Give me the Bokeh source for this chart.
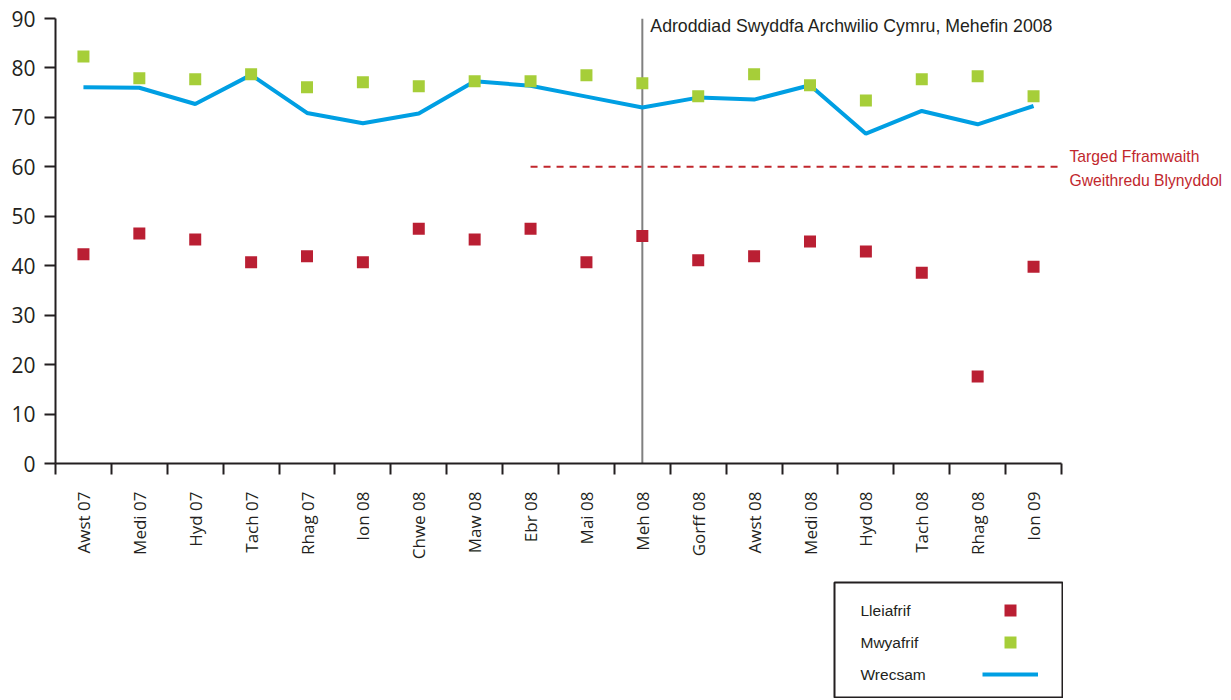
import numpy as np
from bokeh.plotting import figure
from bokeh.models import Range1d, FixedTicker, Span, Label, Legend, LegendItem, Spacer
from bokeh.layouts import column, row
from bokeh.embed import file_html
from bokeh.resources import INLINE

# ---------------- data ----------------
categories = ["Awst 07", "Medi 07", "Hyd 07", "Tach 07", "Rhag 07", "Ion 08",
              "Chwe 08", "Maw 08", "Ebr 08", "Mai 08", "Meh 08", "Gorff 08",
              "Awst 08", "Medi 08", "Hyd 08", "Tach 08", "Rhag 08", "Ion 09"]
lleiafrif = [42.3, 46.5, 45.3, 40.7, 41.9, 40.7, 47.5, 45.3, 47.5, 40.7, 46.0, 41.1,
             41.9, 44.9, 42.9, 38.6, 17.6, 39.8]
mwyafrif = [82.3, 77.9, 77.7, 78.7, 76.1, 77.1, 76.3, 77.3, 77.3, 78.5, 76.9, 74.3,
            78.7, 76.5, 73.4, 77.7, 78.3, 74.3]
wrecsam = [76.1, 76.0, 72.7, 78.6, 70.9, 68.8, 70.8, 77.3, 76.4, 74.2, 72.0, 74.0,
           73.6, 76.5, 66.7, 71.3, 68.6, 72.3]
y_ticks = [0, 10, 20, 30, 40, 50, 60, 70, 80, 90]
series_names = ["Lleiafrif", "Mwyafrif", "Wrecsam"]
target_value = 60
target_start = "Ebr 08"
target_label_lines = ["Targed Fframwaith", "Gweithredu Blynyddol"]
report_month = "Meh 08"
report_label = "Adroddiad Swyddfa Archwilio Cymru, Mehefin 2008"

# ---------------- styles / layout ----------------
RED = "#BA1F33"
GREEN = "#A6CE39"
BLUE = "#009FE3"
AXIS = "#231F20"
TARGET = "#C1272D"
GREY = "#808080"

FIG_W = 1230
LEFT = 55
AXIS_PX = 1006          # pixel length of the category axis

n = len(categories)
xc = [i + 0.5 for i in range(n)]
x_end = n * (FIG_W - LEFT) / AXIS_PX   # frame extends right so side labels are not clipped

p = figure(width=FIG_W, height=581, x_range=Range1d(0, x_end), y_range=Range1d(0, 90),
           output_backend="svg", toolbar_location=None,
           min_border_left=LEFT, min_border_right=0, min_border_top=18,
           min_border_bottom=118)
p.outline_line_color = None
p.xgrid.visible = False
p.ygrid.visible = False

# y axis
p.yaxis.ticker = FixedTicker(ticks=y_ticks)
p.yaxis.axis_line_color = AXIS
p.yaxis.axis_line_width = 2
p.yaxis.major_tick_line_color = AXIS
p.yaxis.major_tick_line_width = 2
p.yaxis.major_tick_in = 0
p.yaxis.major_tick_out = 11
p.yaxis.minor_tick_line_color = None
p.yaxis.major_label_standoff = 9
p.yaxis.major_label_text_font = "Open Sans"
p.yaxis.major_label_text_font_size = "21px"
p.yaxis.major_label_text_color = AXIS

# x axis: labels at centres, ticks at boundaries
p.xaxis.bounds = (0, n)
p.xaxis.ticker = FixedTicker(ticks=xc, minor_ticks=list(range(n + 1)))
p.xaxis.major_label_overrides = {xc[i]: categories[i] for i in range(n)}
p.xaxis.axis_line_color = AXIS
p.xaxis.axis_line_width = 2
p.xaxis.major_tick_in = 0
p.xaxis.major_tick_out = 0
p.xaxis.major_tick_line_color = None
p.xaxis.minor_tick_in = 0
p.xaxis.minor_tick_out = 11
p.xaxis.minor_tick_line_color = AXIS
p.xaxis.minor_tick_line_width = 2
p.xaxis.major_label_orientation = np.pi / 2
p.xaxis.major_label_standoff = 17
p.xaxis.major_label_text_font = "Open Sans"
p.xaxis.major_label_text_font_size = "17px"
p.xaxis.major_label_text_color = AXIS

# report vertical line
ri = categories.index(report_month)
p.add_layout(Span(location=xc[ri], dimension="height", line_color=GREY,
                  line_width=2, level="underlay"))
p.add_layout(Label(x=xc[ri], y=90, x_offset=8, y_offset=-7, text=report_label,
                   text_baseline="middle", text_font="Liberation Sans",
                   text_font_size="17.7px", text_color=AXIS))

# target line
ti = categories.index(target_start)
p.line(x=[xc[ti], n], y=[target_value, target_value], line_color=TARGET,
       line_width=2, line_dash="7 6")
p.add_layout(Label(x=n, y=target_value, x_offset=8, y_offset=10,
                   text=target_label_lines[0], text_baseline="middle",
                   text_font="Liberation Sans", text_font_size="15.7px",
                   text_color=TARGET))
p.add_layout(Label(x=n, y=target_value, x_offset=8, y_offset=-14,
                   text=target_label_lines[1], text_baseline="middle",
                   text_font="Liberation Sans", text_font_size="15.7px",
                   text_color=TARGET))

# series
p.line(x=xc, y=wrecsam, line_color=BLUE, line_width=4)
p.scatter(x=xc, y=mwyafrif, marker="square", size=12, fill_color=GREEN, line_color=None)
p.scatter(x=xc, y=lleiafrif, marker="square", size=12, fill_color=RED, line_color=None)

# ---------------- legend panel (labels left, keys right) ----------------
LG_H = 117
lg = figure(width=230, height=LG_H, x_range=Range1d(0, 1), y_range=Range1d(0, 1),
            output_backend="svg", toolbar_location=None,
            min_border_left=1, min_border_right=1, min_border_top=1, min_border_bottom=1)
lg.axis.visible = False
lg.xgrid.visible = False
lg.ygrid.visible = False
lg.outline_line_color = AXIS
lg.outline_line_width = 2
nan = [float("nan")]
r_red = lg.scatter(x=nan, y=nan, marker="square", size=12, fill_color=RED, line_color=None)
r_green = lg.scatter(x=nan, y=nan, marker="square", size=12, fill_color=GREEN, line_color=None)
r_blue = lg.line(x=nan, y=nan, line_color=BLUE, line_width=4)
frame_h = LG_H - 2
legend = Legend(items=[LegendItem(label=" ", renderers=[r_red]),
                       LegendItem(label=" ", renderers=[r_green]),
                       LegendItem(label=" ", renderers=[r_blue])],
                location=(148, frame_h - 107), orientation="vertical",
                glyph_width=56, glyph_height=30, spacing=2, padding=0, margin=0,
                label_standoff=0, label_width=1, label_text_font_size="1px",
                border_line_color=None, background_fill_alpha=0)
lg.add_layout(legend, "center")
for k, name in enumerate(series_names):
    lg.add_layout(Label(x=26, y=frame_h - 28 - 32 * k, x_units="screen", y_units="screen",
                        text=name, text_baseline="middle", text_font="Liberation Sans",
                        text_font_size="15.5px", text_color=AXIS))

layout = column(p, row(Spacer(width=833, height=LG_H), lg))

open("out.html", "w").write(file_html(layout, INLINE))
